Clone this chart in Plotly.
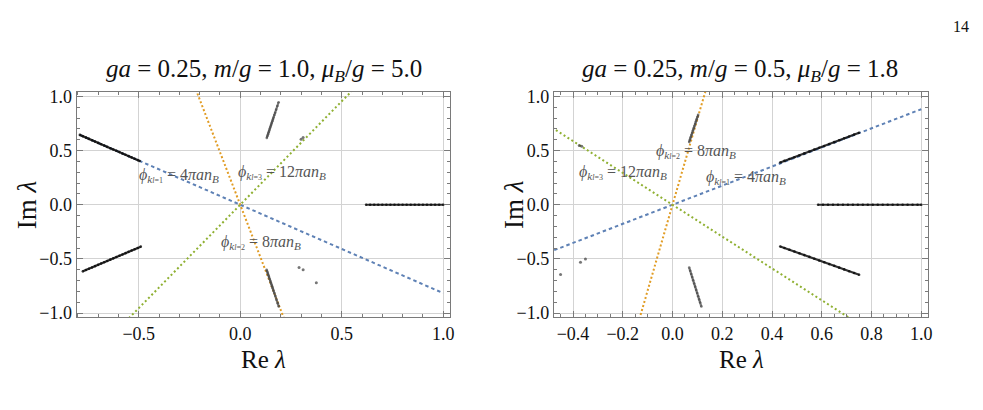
import numpy as np
import plotly.graph_objects as go

FONT = "Liberation Serif"

# ---------------- data ----------------
# Left panel: ga=0.25, m/g=1.0, mu_B/g=5.0
L_up_x = [-0.790,-0.775,-0.760,-0.745,-0.730,-0.715,-0.700,-0.685,-0.670,-0.655,-0.640,
          -0.625,-0.610,-0.595,-0.580,-0.565,-0.550,-0.535,-0.520,-0.505,-0.495]
L_up_y = [0.645,0.632,0.620,0.608,0.596,0.583,0.571,0.559,0.547,0.534,0.522,
          0.510,0.498,0.486,0.473,0.461,0.449,0.437,0.424,0.412,0.404]
L_lo_x = [-0.775,-0.760,-0.745,-0.730,-0.715,-0.700,-0.685,-0.670,-0.655,-0.640,
          -0.625,-0.610,-0.595,-0.580,-0.565,-0.550,-0.535,-0.520,-0.505,-0.490]
L_lo_y = [-0.615,-0.603,-0.591,-0.579,-0.567,-0.555,-0.543,-0.531,-0.519,-0.507,
          -0.495,-0.483,-0.471,-0.459,-0.447,-0.435,-0.423,-0.411,-0.399,-0.387]
L_re_x = [0.620,0.640,0.660,0.680,0.700,0.720,0.740,0.760,0.780,0.800,0.820,
          0.840,0.860,0.880,0.900,0.920,0.940,0.960,0.980,1.000]
L_re_y = [0.0]*20
L_a_x = [0.131,0.134,0.137,0.140,0.143,0.146,0.149,0.152,0.155,0.158,0.161,0.164,0.168,0.172,0.177,0.183,0.189]
L_a_y = [0.617,0.635,0.652,0.669,0.686,0.703,0.720,0.737,0.754,0.771,0.788,0.805,0.828,0.850,0.878,0.912,0.946]
L_b_x = [0.130,0.133,0.136,0.139,0.142,0.145,0.148,0.151,0.154,0.157,0.160,0.164,0.168,0.173,0.179,0.185,0.190]
L_b_y = [-0.600,-0.617,-0.634,-0.651,-0.668,-0.685,-0.702,-0.719,-0.736,-0.753,-0.770,-0.793,-0.815,-0.843,-0.877,-0.910,-0.940]
L_c_x = [0.300,0.310,0.290,0.310,0.375]
L_c_y = [0.605,0.620,-0.580,-0.600,-0.720]

# Right panel: ga=0.25, m/g=0.5, mu_B/g=1.8
R_a_x = [0.067,0.070,0.073,0.076,0.079,0.082,0.085,0.088,0.091,0.094,0.097,0.100,0.103]
R_a_y = [0.580,0.601,0.622,0.643,0.664,0.685,0.705,0.726,0.747,0.768,0.789,0.810,0.830]
R_b_x = [0.067,0.071,0.075,0.079,0.083,0.087,0.091,0.095,0.099,0.103,0.107,0.111,0.116]
R_b_y = [-0.580,-0.609,-0.639,-0.668,-0.698,-0.727,-0.756,-0.786,-0.815,-0.845,-0.874,-0.903,-0.940]
R_up_x = [0.433,0.450,0.470,0.490,0.510,0.530,0.550,0.570,0.590,0.610,0.630,0.650,0.670,0.690,0.710,0.730,0.750]
R_up_y = [0.390,0.405,0.422,0.439,0.457,0.474,0.491,0.509,0.526,0.543,0.561,0.578,0.596,0.613,0.630,0.648,0.665]
R_lo_x = [0.433,0.450,0.470,0.490,0.510,0.530,0.550,0.570,0.590,0.610,0.630,0.650,0.670,0.690,0.710,0.730,0.750]
R_lo_y = [-0.385,-0.399,-0.415,-0.432,-0.448,-0.465,-0.481,-0.498,-0.515,-0.531,-0.548,-0.564,-0.581,-0.597,-0.614,-0.630,-0.647]
R_re_x = [0.585,0.605,0.625,0.645,0.665,0.685,0.705,0.725,0.745,0.765,0.785,0.805,
          0.825,0.845,0.865,0.885,0.905,0.925,0.945,0.965,0.985,1.000]
R_re_y = [0.0]*22
R_c_x = [-0.450,-0.370,-0.350,-0.375,-0.365]
R_c_y = [-0.645,-0.530,-0.500,0.548,0.540]

# Reference lines through the origin: slopes for l = 1, 2, 3
L_slopes = [-0.816, -4.87, 1.91]
R_slopes = [0.882, 7.92, -1.47]
line_x_span_L = [-0.85, 1.0]
line_x_span_R = [-0.50, 1.0]
line_colors = ["#5E81B5", "#E19C24", "#8FB032"]
line_dash = ["3.5px,3px", "2px,2.2px", "2px,2.6px"]

titles = ["<i>ga</i> = 0.25, <i>m</i>/<i>g</i> = 1.0, <i>μ</i><sub><i>B</i></sub>/<i>g</i> = 5.0",
          "<i>ga</i> = 0.25, <i>m</i>/<i>g</i> = 0.5, <i>μ</i><sub><i>B</i></sub>/<i>g</i> = 1.8"]

def phi(l, n):
    return ("<i>ϕ</i><sub><i>k</i><span style='font-size:8px'><i>l</i>=%d</span></sub> = %s<i>πan</i><sub><i>B</i></sub>" % (l, n))

L_labels = [(-0.30, 0.27, phi(1, "4")), (0.205, 0.30, phi(3, "12")), (0.10, -0.35, phi(2, "8"))]
R_labels = [(0.096, 0.49, phi(2, "8")), (-0.20, 0.30, phi(3, "12")), (0.296, 0.25, phi(1, "4"))]

# ---------------- figure ----------------
W, H = 983, 410
fig = go.Figure()

def add_panel(xa, ya, slopes, span, streaks, singles):
    for s, c, d in zip(slopes, line_colors, line_dash):
        xs = np.array(span)
        fig.add_trace(go.Scatter(x=xs, y=s * xs, mode="lines", xaxis=xa, yaxis=ya,
                                 line=dict(color=c, width=2, dash=d), showlegend=False,
                                 hoverinfo="skip"))
    for cx, cy, col in streaks:
        fig.add_trace(go.Scatter(x=cx, y=cy, mode="lines+markers", xaxis=xa, yaxis=ya,
                                 line=dict(color=col, width=2.2),
                                 marker=dict(color=col, size=2.6, line=dict(width=0)),
                                 showlegend=False))
    cx, cy = singles
    fig.add_trace(go.Scatter(x=cx, y=cy, mode="markers", xaxis=xa, yaxis=ya,
                             marker=dict(color="rgba(60,60,60,0.7)", size=3, line=dict(width=0)),
                             showlegend=False))

DARK = "rgba(15,15,15,0.85)"
GREY = "rgba(70,70,70,0.7)"
add_panel("x", "y", L_slopes, line_x_span_L,
          [(L_up_x, L_up_y, DARK), (L_lo_x, L_lo_y, DARK), (L_re_x, L_re_y, DARK),
           (L_a_x, L_a_y, GREY), (L_b_x, L_b_y, GREY)], (L_c_x, L_c_y))
add_panel("x2", "y2", R_slopes, line_x_span_R,
          [(R_a_x, R_a_y, GREY), (R_b_x, R_b_y, GREY), (R_up_x, R_up_y, DARK),
           (R_lo_x, R_lo_y, DARK), (R_re_x, R_re_y, DARK)], (R_c_x, R_c_y))

ydom = [1 - 321 / H, 1 - 89.5 / H]
common = dict(showline=True, linecolor="#7a7a7a", linewidth=1.2, mirror="ticks", ticks="inside",
              ticklen=6, tickcolor="#7a7a7a", showgrid=True, gridcolor="#d3d3d3", gridwidth=1,
              zeroline=False, tickfont=dict(family=FONT, size=18, color="#111"),
              tickformat=".1f")
fig.update_layout(
    width=W, height=H, margin=dict(l=0, r=0, t=0, b=0),
    paper_bgcolor="white", plot_bgcolor="white",
    xaxis=dict(domain=[77 / W, 452 / W], range=[-0.806, 1.032], tick0=-1.0, dtick=0.5,
               minor=dict(dtick=0.1, ticklen=3, tickcolor="#7a7a7a", ticks="inside"), anchor="y", **common),
    yaxis=dict(domain=ydom, range=[-1.04, 1.04], tick0=-1.0, dtick=0.5,
               minor=dict(dtick=0.1, ticklen=3, tickcolor="#7a7a7a", ticks="inside"), anchor="x", **common),
    xaxis2=dict(domain=[556.7 / W, 933 / W], range=[-0.477, 1.028], tick0=-1.0, dtick=0.2,
                minor=dict(dtick=0.05, ticklen=3, tickcolor="#7a7a7a", ticks="inside"), anchor="y2", **common),
    yaxis2=dict(domain=ydom, range=[-1.04, 1.04], tick0=-1.0, dtick=0.5,
                minor=dict(dtick=0.1, ticklen=3, tickcolor="#7a7a7a", ticks="inside"), anchor="x2", **common),
)

ann = []
for cx, t in zip([265, 744], titles):
    ann.append(dict(x=cx / W, y=1 - 67 / H, xref="paper", yref="paper", text=t, showarrow=False,
                    font=dict(family=FONT, size=25, color="#111"), xanchor="center", yanchor="middle"))
for cx in [265, 745]:
    ann.append(dict(x=cx / W, y=1 - 364 / H, xref="paper", yref="paper", text="Re <i>λ</i>", showarrow=False,
                    font=dict(family=FONT, size=25, color="#111"), xanchor="center", yanchor="middle"))
for cx in [27, 516]:
    ann.append(dict(x=cx / W, y=1 - 205 / H, xref="paper", yref="paper", text="Im <i>λ</i>", showarrow=False,
                    textangle=-90, font=dict(family=FONT, size=27, color="#111"),
                    xanchor="center", yanchor="middle"))
for (x, y, t) in L_labels:
    ann.append(dict(x=x, y=y, xref="x", yref="y", text=t, showarrow=False,
                    font=dict(family=FONT, size=16, color="#555")))
for (x, y, t) in R_labels:
    ann.append(dict(x=x, y=y, xref="x2", yref="y2", text=t, showarrow=False,
                    font=dict(family=FONT, size=16, color="#555")))
ann.append(dict(x=966 / W, y=1 - 22 / H, xref="paper", yref="paper", text="14", showarrow=False,
                font=dict(family=FONT, size=16, color="#111"), xanchor="center", yanchor="middle"))
fig.update_layout(annotations=ann)

fig.write_html("out.html")
